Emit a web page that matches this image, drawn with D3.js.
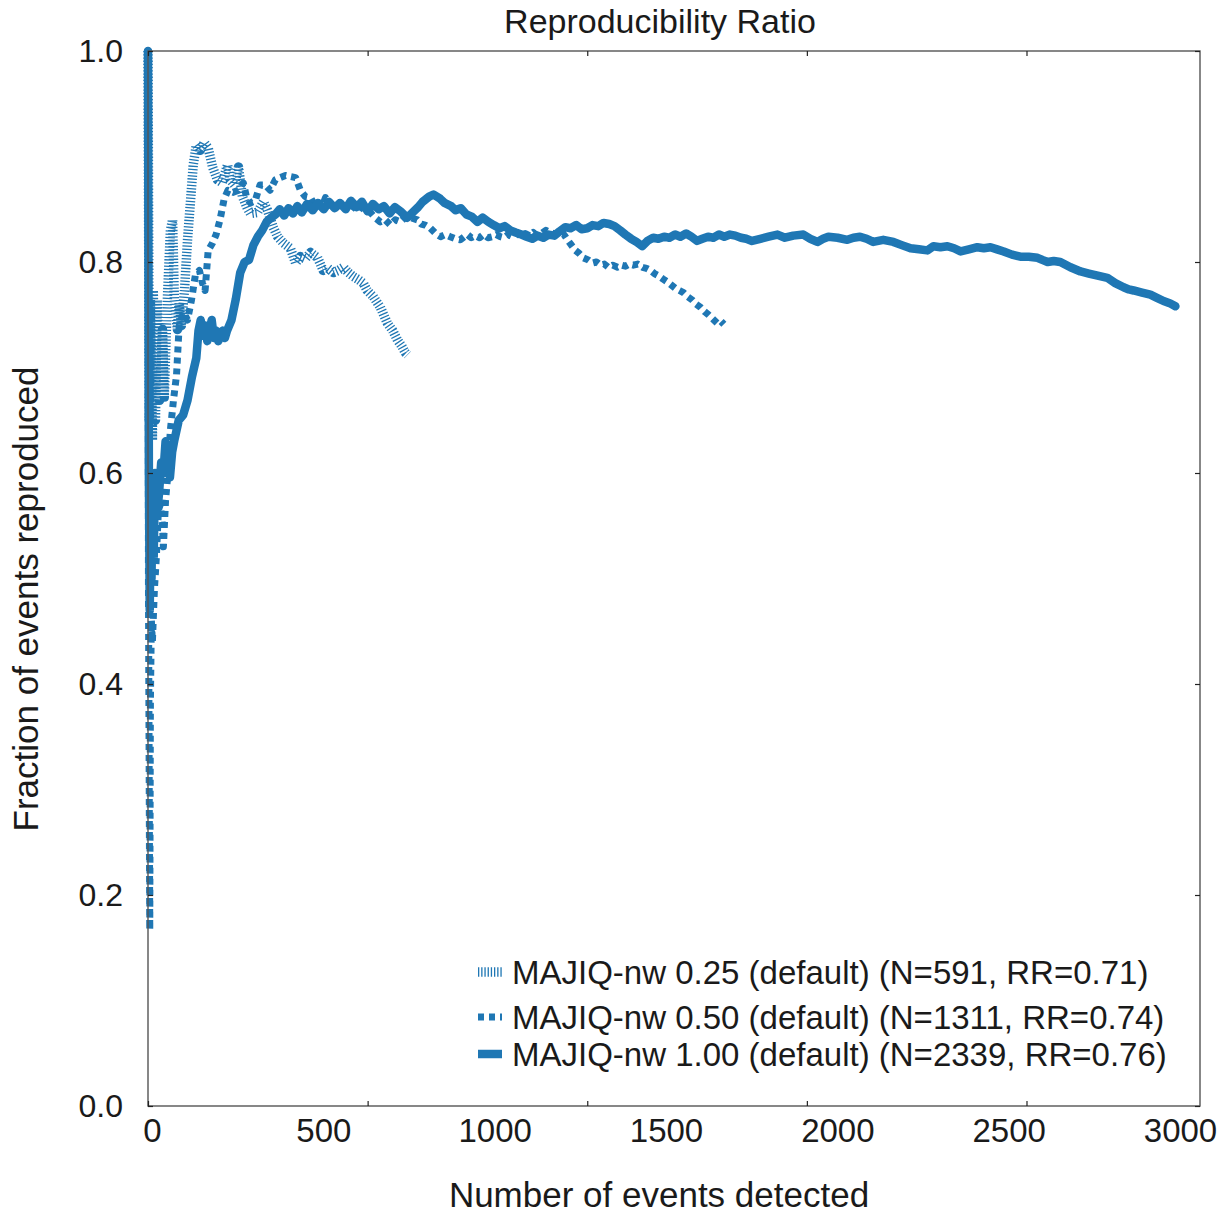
<!DOCTYPE html>
<html>
	<head>
		<meta charset="utf-8">
		<title>Reproducibility Ratio</title>
		<script src="https://d3js.org/d3.v7.min.js"></script>
		<style>
			body { margin: 0; background: #fff; }
			text { font-family: "Liberation Sans", Arial, Helvetica, sans-serif; fill: #1a1a1a; }
		</style>
	</head>
	<body>
		<script>

			//Series: [events detected, fraction reproduced]
			var rr025 = [[0,1.0],[3,0.65],[5.5,0.764],[10,0.631],[12,0.773],[17,0.65],[21,0.764],[26,0.669],[33,0.736],[37,0.672],
				[44,0.764],[51,0.830],[56,0.840],[60,0.764],[67,0.736],[71,0.761],[76,0.74],[83,0.773],[90,0.821],[97,0.859],
				[103,0.892],[110,0.911],[119,0.906],[128,0.913],[137,0.908],[147,0.89],[158,0.878],[169,0.875],[181,0.892],[187,0.878],
				[197,0.873],[206,0.89],[215,0.862],[226,0.851],[233,0.846],[249,0.847],[263,0.857],[272,0.849],[285,0.833],[295,0.824],
				[308,0.818],[324,0.813],[336,0.799],[347,0.805],[358,0.803],[370,0.809],[386,0.804],[399,0.792],[410,0.794],[422,0.790],
				[433,0.792],[445,0.795],[456,0.790],[468,0.786],[480,0.783],[490,0.780],[499,0.773],[513,0.767],[529,0.757],[545,0.742],
				[557,0.735],[568,0.726],[578,0.720],[586,0.714],[591,0.712]];

			var rr050 = [[0,1.0],[1,0.50],[4,0.167],[5.5,0.385],[7.7,0.46],[10,0.44],[14.6,0.49],[19,0.52],[23.7,0.565],[28,0.57],
				[33,0.55],[35,0.53],[40,0.574],[44,0.593],[51,0.641],[58,0.669],[65,0.693],[71,0.74],[81,0.752],[90,0.745],
				[99,0.764],[108,0.788],[117,0.792],[124,0.78],[130,0.773],[137,0.811],[147,0.818],[155,0.826],[164,0.84],[173,0.859],
				[182,0.868],[194,0.866],[206,0.868],[217,0.875],[224,0.862],[233,0.856],[244,0.858],[255,0.873],[267,0.873],[278,0.868],
				[290,0.878],[301,0.880],[313,0.882],[324,0.881],[336,0.88],[347,0.868],[358,0.862],[370,0.861],[379,0.854],[388,0.856],
				[396,0.852],[404,0.861],[412,0.856],[420,0.854],[429,0.857],[438,0.849],[450,0.853],[461,0.849],[472,0.855],[484,0.852],
				[495,0.849],[506,0.847],[517,0.842],[529,0.838],[540,0.840],[552,0.835],[563,0.840],[575,0.838],[587,0.843],[598,0.842],
				[613,0.840],[622,0.836],[631,0.835],[643,0.832],[655,0.827],[666,0.824],[677,0.826],[688,0.824],[700,0.822],[711,0.821],
				[720,0.824],[727,0.826],[736,0.823],[745,0.825],[755,0.823],[764,0.826],[774,0.823],[784,0.824],[793,0.826],[802,0.824],
				[811,0.823],[820,0.826],[830,0.824],[841,0.827],[850,0.824],[859,0.827],[868,0.825],[877,0.828],[886,0.825],[896,0.827],
				[906,0.830],[916,0.828],[928,0.826],[939,0.824],[947,0.826],[955,0.821],[964,0.816],[973,0.811],[982,0.808],[991,0.804],
				[1002,0.802],[1012,0.799],[1021,0.800],[1030,0.797],[1039,0.798],[1048,0.795],[1058,0.797],[1069,0.795],[1078,0.797],[1087,0.796],
				[1096,0.798],[1105,0.797],[1115,0.798],[1126,0.795],[1135,0.794],[1144,0.792],[1153,0.789],[1162,0.787],[1172,0.784],[1183,0.781],
				[1192,0.778],[1201,0.775],[1210,0.773],[1219,0.771],[1229,0.767],[1239,0.764],[1248,0.760],[1258,0.757],[1267,0.753],[1276,0.750],
				[1286,0.746],[1296,0.742],[1304,0.744],[1311,0.741]];

			var rr100 = [[0,1.0],[2,0.60],[4,0.47],[6,0.55],[8,0.50],[10,0.57],[13,0.52],[16,0.60],[20,0.56],[25,0.58],
				[30,0.61],[35,0.60],[40,0.63],[45,0.61],[50,0.596],[55,0.62],[60,0.631],[70,0.65],[80,0.655],[90,0.669],
				[100,0.691],[110,0.709],[115,0.735],[120,0.745],[125,0.73],[130,0.74],[135,0.725],[140,0.735],[145,0.745],[150,0.728],
				[155,0.735],[160,0.725],[165,0.73],[170,0.735],[175,0.728],[180,0.735],[190,0.745],[200,0.765],[210,0.79],[220,0.80],
				[230,0.802],[240,0.816],[250,0.824],[260,0.830],[270,0.838],[280,0.842],[290,0.845],[300,0.850],[310,0.844],[320,0.851],
				[330,0.846],[340,0.853],[350,0.847],[362,0.855],[375,0.849],[387,0.856],[400,0.850],[412,0.857],[425,0.851],[437,0.856],
				[450,0.850],[462,0.858],[475,0.852],[487,0.857],[500,0.848],[512,0.855],[525,0.850],[537,0.853],[550,0.846],[562,0.852],
				[575,0.848],[590,0.842],[600,0.846],[615,0.852],[625,0.857],[640,0.862],[650,0.864],[665,0.860],[675,0.856],[690,0.853],
				[700,0.849],[712,0.851],[725,0.845],[737,0.843],[750,0.838],[762,0.842],[775,0.838],[787,0.835],[800,0.832],[812,0.834],
				[825,0.830],[837,0.828],[850,0.826],[862,0.824],[875,0.822],[887,0.825],[900,0.823],[912,0.826],[925,0.825],[937,0.829],
				[950,0.833],[962,0.832],[975,0.835],[987,0.831],[1000,0.832],[1012,0.835],[1025,0.834],[1037,0.837],[1050,0.836],[1062,0.834],
				[1075,0.830],[1087,0.826],[1100,0.822],[1112,0.819],[1125,0.815],[1137,0.820],[1150,0.823],[1162,0.822],[1175,0.824],[1187,0.823],
				[1200,0.826],[1212,0.824],[1225,0.827],[1237,0.824],[1250,0.820],[1262,0.822],[1275,0.824],[1287,0.823],[1300,0.826],[1312,0.824],
				[1325,0.826],[1337,0.825],[1350,0.823],[1362,0.822],[1375,0.820],[1394,0.822],[1413,0.824],[1433,0.826],[1450,0.823],[1469,0.825],
				[1492,0.826],[1508,0.822],[1524,0.819],[1537,0.822],[1549,0.824],[1570,0.823],[1592,0.821],[1606,0.823],[1621,0.824],[1636,0.822],
				[1651,0.819],[1674,0.821],[1697,0.819],[1716,0.816],[1736,0.813],[1755,0.812],[1774,0.811],[1788,0.815],[1804,0.814],[1820,0.815],
				[1835,0.813],[1850,0.810],[1869,0.812],[1888,0.814],[1903,0.813],[1918,0.814],[1933,0.812],[1948,0.810],[1967,0.807],[1986,0.805],
				[2005,0.805],[2025,0.804],[2036,0.802],[2048,0.800],[2062,0.801],[2077,0.800],[2100,0.795],[2123,0.791],[2142,0.789],[2162,0.787],
				[2184,0.785],[2202,0.780],[2221,0.776],[2233,0.774],[2244,0.773],[2263,0.771],[2282,0.769],[2297,0.766],[2312,0.763],[2326,0.761],
				[2339,0.758]];

			var legendLabels = ["MAJIQ-nw 0.25 (default) (N=591, RR=0.71)",
								"MAJIQ-nw 0.50 (default) (N=1311, RR=0.74)",
								"MAJIQ-nw 1.00 (default) (N=2339, RR=0.76)"];

			//tick marks sit at the real data positions, the printed labels are spread on their own
			var xTickMarks = [0, 500, 1000, 1500, 2000];
			var xTickLabels = [0, 500, 1000, 1500, 2000, 2500, 3000];
			var yTicks = [0, 0.2, 0.4, 0.6, 0.8, 1.0];

			var w = 1231;
			var h = 1214;
			//plot box (don't call these top/left, window.top is read only)
			var boxL = 148, boxR = 1200, boxT = 51, boxB = 1106;
			var blue = "#1f77b4";

			var styles = [
				{ width: 9.5, dash: "1.3,1.9", cap: "butt" },
				{ width: 7, dash: "6,5", cap: "butt" },
				{ width: 8.5, dash: null, cap: "round" }
			];

			var xScale = d3.scaleLinear().domain([0, 2395]).range([boxL, boxR]);
			var labelScale = d3.scaleLinear().domain([0, 3000]).range([152, 1180]);
			var yScale = d3.scaleLinear().domain([0, 1]).range([boxB, boxT]);

			var svg = d3.select("body")
						.append("svg")
						.attr("width", w)
						.attr("height", h);

			var line = d3.line()
						.x(function(d) { return xScale(d[0]); })
						.y(function(d) { return yScale(d[1]); });

			svg.selectAll("path.series")
				.data([rr025, rr050, rr100])
				.enter()
				.append("path")
				.attr("class", "series")
				.attr("d", line)
				.attr("fill", "none")
				.attr("stroke", blue)
				.attr("stroke-width", function(d, i) { return styles[i].width; })
				.attr("stroke-dasharray", function(d, i) { return styles[i].dash; })
				.attr("stroke-linecap", function(d, i) { return styles[i].cap; })
				.attr("stroke-linejoin", "round");

			//frame
			svg.append("rect")
				.attr("x", boxL)
				.attr("y", boxT)
				.attr("width", boxR - boxL)
				.attr("height", boxB - boxT)
				.attr("fill", "none")
				.attr("stroke", "#555")
				.attr("stroke-width", 1.4);

			//inward tick marks on all four sides
			function marks(g) {
				g.select(".domain").remove();
				g.selectAll(".tick line").attr("stroke", "#222").attr("stroke-width", 1.2);
			}
			svg.append("g").attr("transform", "translate(0," + boxB + ")")
				.call(d3.axisBottom(xScale).tickValues(xTickMarks).tickSize(-5).tickFormat("")).call(marks);
			svg.append("g").attr("transform", "translate(0," + boxT + ")")
				.call(d3.axisTop(xScale).tickValues(xTickMarks).tickSize(-5).tickFormat("")).call(marks);
			svg.append("g").attr("transform", "translate(" + boxR + ",0)")
				.call(d3.axisRight(yScale).tickValues(yTicks).tickSize(-5).tickFormat("")).call(marks);

			var yAxis = svg.append("g").attr("transform", "translate(" + boxL + ",0)")
				.call(d3.axisLeft(yScale).tickValues(yTicks).tickSize(-5).tickPadding(25).tickFormat(d3.format(".1f")))
				.call(marks);
			yAxis.selectAll("text").attr("font-size", "32px").attr("font-family", null).attr("fill", null);

			var xLabels = svg.append("g").attr("transform", "translate(0," + boxB + ")")
				.call(d3.axisBottom(labelScale).tickValues(xTickLabels).tickSize(0).tickPadding(13).tickFormat(d3.format("d")));
			xLabels.select(".domain").remove();
			xLabels.selectAll("text").attr("font-size", "33px").attr("font-family", null).attr("fill", null);

			//titles
			svg.append("text")
				.attr("x", 660)
				.attr("y", 33)
				.attr("text-anchor", "middle")
				.attr("font-size", "34px")
				.text("Reproducibility Ratio");

			svg.append("text")
				.attr("x", 659)
				.attr("y", 1207)
				.attr("text-anchor", "middle")
				.attr("font-size", "35px")
				.text("Number of events detected");

			svg.append("text")
				.attr("transform", "translate(38,599) rotate(-90)")
				.attr("text-anchor", "middle")
				.attr("font-size", "35px")
				.text("Fraction of events reproduced");

			//legend
			var legendY = [972, 1017, 1054];
			var legend = svg.selectAll("g.legend")
				.data(legendLabels)
				.enter()
				.append("g")
				.attr("class", "legend")
				.attr("transform", function(d, i) { return "translate(478," + legendY[i] + ")"; });

			legend.append("line")
				.attr("x1", 0)
				.attr("x2", 24)
				.attr("stroke", blue)
				.attr("stroke-width", function(d, i) { return styles[i].width; })
				.attr("stroke-dasharray", function(d, i) { return styles[i].dash; });

			legend.append("text")
				.attr("x", 34)
				.attr("y", 12)
				.attr("font-size", "33px")
				.text(function(d) { return d; });

		</script>
	</body>
</html>
